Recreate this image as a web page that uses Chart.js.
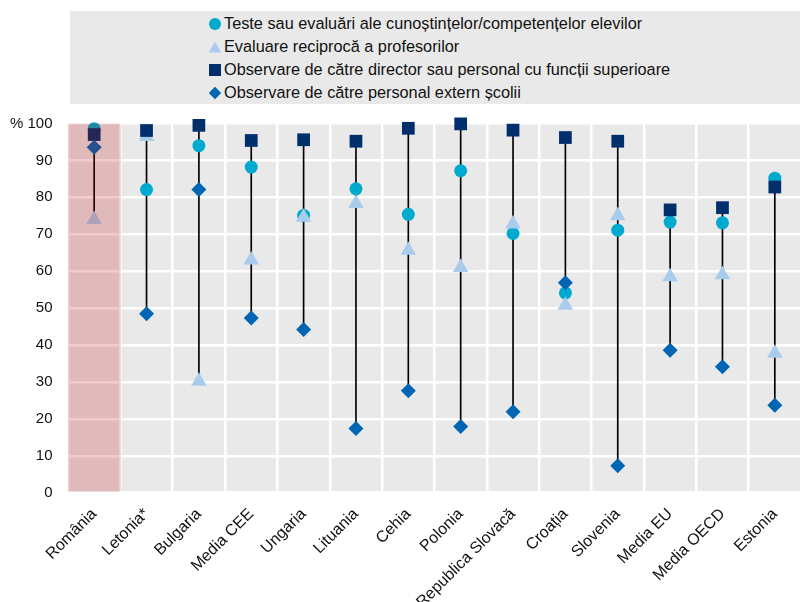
<!DOCTYPE html>
<html>
<head>
<meta charset="utf-8">
<script src="https://cdn.jsdelivr.net/npm/chart.js@4.4.1/dist/chart.umd.min.js"></script>
<style>
  html, body { margin: 0; padding: 0; background: #fff; overflow: hidden; }
  #wrap { position: relative; width: 800px; height: 602px; overflow: hidden; }
  #chart { position: absolute; left: 0; top: 0; }
  #legend {
    position: absolute; left: 70px; top: 11px; width: 740px; height: 93px;
    background: #e9e9e9;
    font-family: 'Liberation Sans', Arial, sans-serif; font-size: 16.3px; color: #111;
  }
  .row { position: absolute; left: 138px; height: 23px; line-height: 23px; white-space: nowrap; display: flex; align-items: center; }
  .row svg { width: 14px; height: 14px; margin-right: 2px; flex: none; }
</style>
</head>
<body>
<div id="wrap">
  <canvas id="chart" width="810" height="602"></canvas>
  <div id="legend"></div>
</div>
<script>
// Categories along the horizontal axis
const categories = ['România', 'Letonia*', 'Bulgaria', 'Media CEE', 'Ungaria', 'Lituania', 'Cehia',
  'Polonia', 'Republica Slovacă', 'Croația', 'Slovenia', 'Media EU', 'Media OECD', 'Estonia'];
const highlighted = 'România';

// Series names (legend order)
const seriesNames = [
  'Teste sau evaluări ale cunoștințelor/competențelor elevilor',
  'Evaluare reciprocă a profesorilor',
  'Observare de către director sau personal cu funcții superioare',
  'Observare de către personal extern școlii'
];

// Series values, % of teachers
const testeElevi        = [98.6, 82.1, 94.0, 88.2, 75.1, 82.3, 75.4, 87.2, 70.2, 54.1, 71.1, 73.3, 73.1, 85.2];
const evaluareReciproca = [74.0, 96.5, 30.2, 63.0, 74.6, 78.3, 65.7, 61.0, 72.8, 50.8, 75.0, 58.5, 59.0, 37.8];
const observareDirector = [97.0, 98.1, 99.5, 95.4, 95.6, 95.2, 98.7, 99.9, 98.2, 96.2, 95.2, 76.6, 77.2, 82.8];
const observareExtern   = [93.6, 48.5, 82.1, 47.3, 44.2, 17.4, 27.6, 17.9, 21.9, 56.9, 7.3, 38.6, 34.1, 23.7];

// Y axis tick labels (0..100, step 10)
const yTickLabels = ['0', '10', '20', '30', '40', '50', '60', '70', '80', '90', '% 100'];

const colors = ['#00a9ce', '#a9cbec', '#002f6c', '#0066b3'];
const FONT = "'Liberation Sans', Arial, sans-serif";

// Vertical connector from the lowest to the highest value in each category
const ranges = categories.map((_, i) => {
  const v = [testeElevi[i], evaluareReciproca[i], observareDirector[i], observareExtern[i]];
  return [Math.min(...v), Math.max(...v)];
});
const bandData = categories.map(c => c === highlighted ? [0, 100] : null);

function pointSeries(label, data, style, radius, color, order) {
  return {
    type: 'line', label, data, showLine: false, order, clip: false,
    pointStyle: style, pointRadius: radius, pointHoverRadius: radius,
    pointBackgroundColor: color, pointBorderWidth: 0,
    backgroundColor: color, borderColor: color, borderWidth: 0
  };
}

const plotBackground = {
  id: 'plotBackground',
  beforeDraw(chart) {
    const { ctx, chartArea: a } = chart;
    ctx.save();
    ctx.fillStyle = '#e9e9e9';
    ctx.fillRect(a.left, a.top, a.right - a.left, a.bottom - a.top);
    ctx.restore();
  }
};

new Chart(document.getElementById('chart'), {
  data: {
    labels: categories,
    datasets: [
      { type: 'bar', label: 'highlight', data: bandData, backgroundColor: 'rgba(192,0,0,0.2)',
        barPercentage: 1, categoryPercentage: 1, grouped: false, order: 0 },
      pointSeries(seriesNames[3], observareExtern, 'rectRot', 7.5, colors[3], 1),
      pointSeries(seriesNames[2], observareDirector, 'rect', 9, colors[2], 2),
      pointSeries(seriesNames[1], evaluareReciproca, 'triangle', 9, colors[1], 3),
      pointSeries(seriesNames[0], testeElevi, 'circle', 6.5, colors[0], 4),
      { type: 'bar', label: 'range', data: ranges, backgroundColor: '#000',
        barThickness: 1, grouped: false, order: 5 }
    ]
  },
  options: {
    responsive: false,
    animation: false,
    events: [],
    layout: { padding: { top: 123.5, left: 0, right: 0, bottom: 0 } },
    plugins: { legend: { display: false }, tooltip: { enabled: false } },
    scales: {
      x: {
        grid: { offset: true, color: '#fff', lineWidth: 2.5, drawTicks: false },
        border: { display: false },
        ticks: { autoSkip: false, minRotation: 45, maxRotation: 45, padding: 12,
          color: '#111', font: { family: FONT, size: 16 } },
        afterFit(scale) { scale.height = 109.3; }
      },
      y: {
        min: 0, max: 100,
        grid: { color: '#fff', lineWidth: 2.5, drawTicks: false },
        border: { display: false },
        ticks: { stepSize: 10, padding: 15.5, color: '#111', font: { family: FONT, size: 15 },
          callback: (v, i) => yTickLabels[i] },
        afterFit(scale) { scale.width = 68; }
      }
    }
  },
  plugins: [plotBackground]
});

// Legend
const shapes = [
  '<circle cx="7" cy="7" r="6"/>',
  '<polygon points="7,1.5 13.2,12.5 0.8,12.5"/>',
  '<rect x="1" y="1" width="12" height="12"/>',
  '<polygon points="7,0.8 13.2,7 7,13.2 0.8,7"/>'
];
const legend = document.getElementById('legend');
seriesNames.forEach((name, i) => {
  const row = document.createElement('div');
  row.className = 'row';
  row.style.top = (1 + 23 * i) + 'px';
  row.innerHTML = '<svg viewBox="0 0 14 14" fill="' + colors[i] + '">' + shapes[i] + '</svg>';
  const span = document.createElement('span');
  span.textContent = name;
  row.appendChild(span);
  legend.appendChild(row);
});
</script>
</body>
</html>
